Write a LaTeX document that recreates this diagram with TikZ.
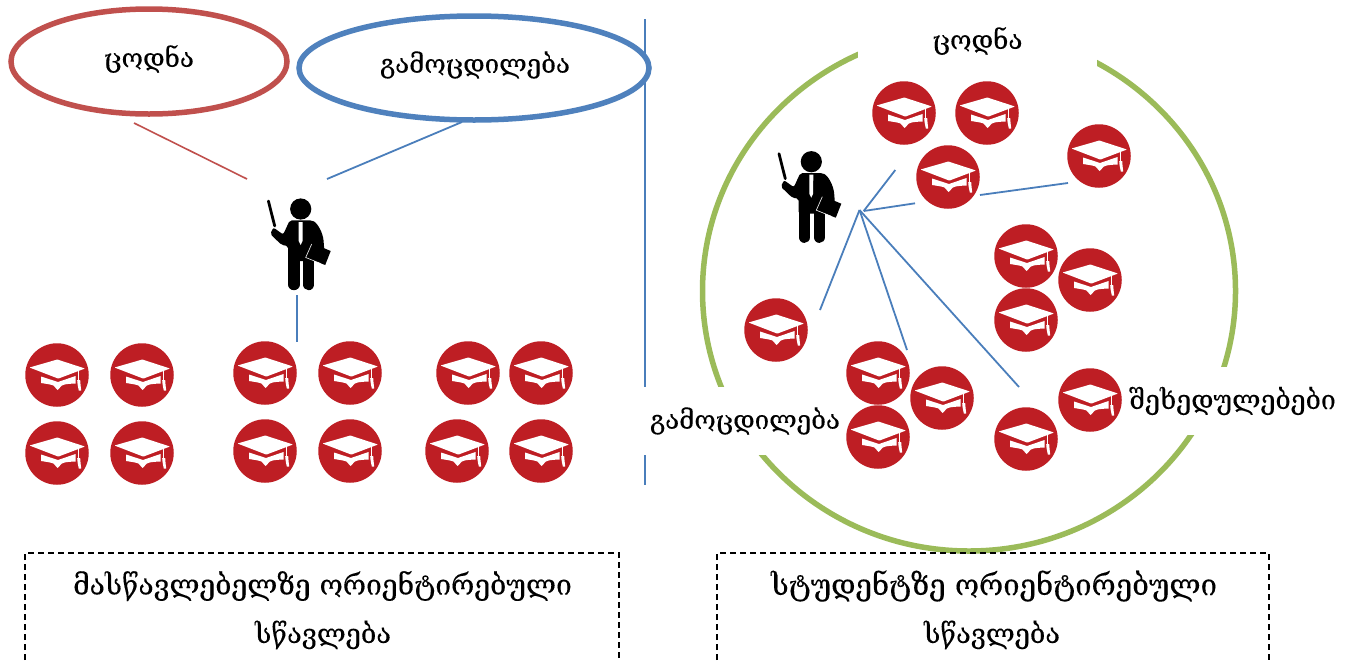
\documentclass[tikz,border=0pt]{standalone}
\usepackage{fontspec}
\usepackage{graphicx}
\setmainfont[FakeBold=0.2]{DejaVu Serif}
\usetikzlibrary{shapes.geometric}
\definecolor{capred}{HTML}{BE1E24}
\definecolor{ellred}{HTML}{C0504D}
\definecolor{ellblue}{HTML}{4F81BD}
\definecolor{lineblue}{HTML}{4A7EBB}
\definecolor{ringgreen}{HTML}{9BBB59}
\def\px{0.75pt}
\tikzset{
  capdisc/.style={circle,fill=capred,draw=none,minimum size=63.5*\px,inner sep=0pt},
  ovalnode/.style={ellipse,draw,line width=5.5*\px,inner sep=0pt,fill=white},
  bluewire/.style={draw=lineblue,line width=1.8*\px},
  redwire/.style={draw=ellred,line width=1.6*\px},
  gaplabel/.style={fill=white,inner sep=0pt,text=black},
  plain/.style={inner sep=0pt,text=black},
  dashbox/.style={draw=black,line width=1.1*\px,dash pattern=on 6*\px off 4*\px},
  capglyph/.pic={
    \fill[white,rounded corners=0.6*\px] (-27.5,-7.5) -- (0.3,-15.5) -- (28,-6.5) -- (1.3,3.6) -- cycle;
    \fill[white] (-16,1.5) -- (1,7) -- (18.5,1) -- (18.5,8.6) .. controls (11,8.7) and (7,9.2) .. (4.7,10.7) -- (0.6,15) -- (-3.7,10.4) .. controls (-7,9.2) and (-12,8.7) .. (-16,8) -- cycle;
    \draw[white,line width=1.2*\px] (21.5,-6) -- (21.5,6);
    \fill[white] (20.2,5) -- (23.2,5) .. controls (23.4,9) and (23.8,12) .. (24.2,15.5) -- (21.8,15.5) .. controls (21,12) and (20.4,9) .. (20.2,5) -- cycle;
  },
  teacherglyph/.pic={
    \fill[black] (0,0) circle [radius=10.6];
    \draw[black,line width=2.8*\px,line cap=round] (-32.3,-8) -- (-26,17);
    \fill[black,rounded corners=2*\px] (-11,11.4) -- (11.5,11.4) .. controls (17.5,15) and (22,24) .. (23,33) -- (24,48) -- (13.6,52) -- (-12.6,52) -- (-12.6,37) -- (-19,36) -- (-30.5,25) -- (-27.3,18.5) -- (-17.5,25.5) -- cycle;
    \draw[black,line width=11.4*\px,line cap=round] (-6.9,45) -- (-6.9,75.5);
    \draw[black,line width=11.4*\px,line cap=round] (8,45) -- (8,75.5);
    \fill[white] (-2,13) -- (2,13) -- (1.8,32) -- (0,36) -- (-2,32) -- cycle;
    \fill[black] (11,34) -- (30,42) -- (24.5,56) -- (5,48.5) -- cycle;
    \draw[white,line width=0.6*\px] (11,35) -- (5,48.5) -- (20,54.5);
  }
}
\newcommand{\capat}[3]{\node[capdisc] (#1) at (#2,#3) {}; \pic at (#1.center) {capglyph};}
\begin{document}
\begin{tikzpicture}[x=0.75pt,y=-0.75pt]
\useasboundingbox (0,0) rectangle (1355,661);
% divider
\coordinate (divtop) at (645,19);
\coordinate (divbot) at (645,485);
\draw[bluewire,line width=2*\px] (divtop) -- (divbot);
% ring
\node[ellipse,draw=ringgreen,line width=5.5*\px,minimum width=533*\px,minimum height=520*\px,inner sep=0pt] (ring) at (969,291) {};
% ovals
\node[ovalnode,draw=ellred,minimum width=276*\px,minimum height=105*\px] (oknow) at (149,61.5) {};
\node[ovalnode,draw=ellblue,minimum width=350*\px,minimum height=104*\px] (oexp) at (474,68) {};
\node[plain] (tknow) at (149,59) {\resizebox{67.5pt}{!}{ცოდნა}};
\node[plain] (texp) at (475,65) {\resizebox{142.5pt}{!}{გამოცდილება}};
% labels with white backing
\node[gaplabel,minimum width=239*\px,minimum height=56*\px] (rknow) at (977.5,41) {\resizebox{67.5pt}{!}{ცოდნა}};
\node[gaplabel,minimum width=210*\px,minimum height=68*\px] (rexp) at (745,421) {\resizebox{142.5pt}{!}{გამოცდილება}};
\node[gaplabel,minimum width=225*\px,minimum height=68*\px] (rview) at (1232.5,401) {\resizebox{155pt}{!}{შეხედულებები}};
% teachers
\coordinate (teachL) at (300.7,209);
\coordinate (teachR) at (811.3,161.7);
\pic at (teachL) {teacherglyph};
\pic at (teachR) {teacherglyph};
% left connectors
\coordinate (a1) at (134,123); \coordinate (a2) at (247,179);
\coordinate (b1) at (462,122); \coordinate (b2) at (327,179);
\coordinate (v1) at (297,295); \coordinate (v2) at (297,342);
\draw[redwire] (a1) -- (a2);
\draw[bluewire] (b1) -- (b2);
\draw[bluewire] (v1) -- (v2);
% right connectors
\coordinate (hub) at (859.5,210);
\coordinate (hubb) at (863.7,211);
\coordinate (e1) at (895.3,170);
\coordinate (e2) at (915,203.3);
\coordinate (e3) at (820,310);
\coordinate (e4) at (907,350);
\coordinate (e5) at (1019,387);
\coordinate (f1) at (980,195);
\coordinate (f2) at (1068,183);
\draw[bluewire] (hubb) -- (e1);
\draw[bluewire] (hubb) -- (e2);
\draw[bluewire] (hub) -- (e3);
\draw[bluewire] (hub) -- (e4);
\draw[bluewire] (hub) -- (e5);
\draw[bluewire] (f1) -- (f2);
% caps left
\capat{l1}{57}{375}\capat{l2}{142}{375}\capat{l3}{265}{373}\capat{l4}{350}{373}\capat{l5}{468}{373}\capat{l6}{541}{373}
\capat{l7}{57}{453}\capat{l8}{142}{453}\capat{l9}{265}{451}\capat{l10}{350}{451}\capat{l11}{457}{451}\capat{l12}{541}{451}
% caps right
\capat{r1}{904}{113}\capat{r2}{987}{113}\capat{r3}{948}{177}\capat{r4}{1099}{156}
\capat{r5}{1026}{256}\capat{r6}{1090}{280}\capat{r7}{1026}{320}\capat{r8}{776}{330}
\capat{r9}{878}{373}\capat{r10}{942}{398}\capat{r11}{878}{437}\capat{r12}{1026}{439}\capat{r13}{1090}{400}
% dashed boxes, open at the picture's lower edge
\coordinate (bl1) at (25,670); \coordinate (bl2) at (25,553); \coordinate (bl3) at (619,553); \coordinate (bl4) at (619,670);
\coordinate (br1) at (717,670); \coordinate (br2) at (717,553); \coordinate (br3) at (1269,553); \coordinate (br4) at (1269,670);
\draw[dashbox] (bl1) -- (bl2) -- (bl3) -- (bl4);
\draw[dashbox] (br1) -- (br2) -- (br3) -- (br4);
\node[plain] (cap1a) at (322.5,586) {\resizebox{374pt}{!}{მასწავლებელზე ორიენტირებული}};
\node[plain] (cap1b) at (323,635) {\resizebox{102pt}{!}{სწავლება}};
\node[plain] (cap2a) at (994,586) {\resizebox{334.5pt}{!}{სტუდენტზე ორიენტირებული}};
\node[plain] (cap2b) at (992,635) {\resizebox{102pt}{!}{სწავლება}};
\end{tikzpicture}
\end{document}
